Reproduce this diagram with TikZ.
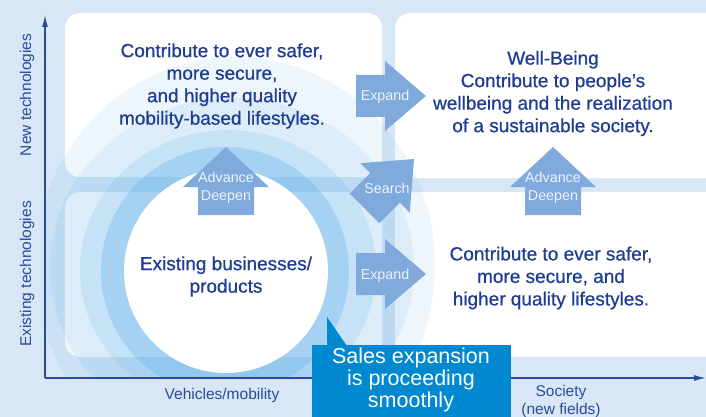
\documentclass[tikz,border=0pt]{standalone}
\usepackage{fontspec}
\setmainfont{Liberation Sans}
\newfontfamily\medfont[FakeBold=0.6]{Liberation Sans}
\usetikzlibrary{arrows.meta}

\definecolor{bgblue}{RGB}{215,231,246}
\definecolor{ringblue}{RGB}{90,174,234}
\definecolor{navy}{RGB}{30,60,145}
\definecolor{axisblue}{RGB}{43,74,158}
\definecolor{arrowblue}{RGB}{128,170,220}
\definecolor{arrowtext}{RGB}{238,243,250}
\definecolor{callout}{RGB}{0,136,208}

\newcommand{\bigarrow}[4]{\fill[arrowblue] (0,-#1) -- (#2,-#1) -- (#2,-#3) -- (#2+#4,0) -- (#2,#3) -- (#2,#1) -- (0,#1) -- cycle;}

\begin{document}
\begin{tikzpicture}[x=1pt,y=-1pt,
    box/.style={fill=white,rounded corners=15pt},
    ring/.style={fill=ringblue,opacity=#1},
    axis/.style={draw=axisblue,line width=1.4pt,-{Latex[length=12pt,width=6pt]}},
    lbl/.style={text=navy,align=center,font=\medfont\fontsize{19}{22.5}\selectfont},
    axislbl/.style={text=axisblue,align=center,font=\fontsize{15.5}{18}\selectfont},
    arrowlbl/.style={text=arrowtext,align=center,font=\fontsize{14.3}{18}\selectfont}]
    \clip (0,0) rectangle (706,417);
    \fill[bgblue] (0,0) rectangle (706,417);
    \fill[box] (65,13) rectangle (382,177);
    \fill[box] (395,13) rectangle (720,178);
    \fill[box] (65,192) rectangle (382,357);
    \fill[box] (395,192) rectangle (720,357);
    \begin{scope}
      \clip (45,0) rectangle (706,378);
      \fill[ring=0.10] (235,265) ellipse [x radius=200,y radius=208];
      \fill[ring=0.12] (232,268) ellipse [x radius=182,y radius=170];
      \fill[ring=0.17] (228,270) ellipse [x radius=148,y radius=140];
      \fill[ring=0.30] (225,271) circle [radius=124];
    \end{scope}
    \fill[white] (226,271) circle [radius=102];
    \begin{scope}[shift={(226,215)},rotate=90]
      \bigarrow{28}{28}{43}{40}
    \end{scope}
    \begin{scope}[shift={(553,215)},rotate=90]
      \bigarrow{28}{28}{43}{40}
    \end{scope}
    \begin{scope}[shift={(356,96)}]
      \bigarrow{21}{29}{35}{41}
    \end{scope}
    \begin{scope}[shift={(356,274)}]
      \bigarrow{21}{29}{35}{41}
    \end{scope}
    \begin{scope}[shift={(364.5,208.5)},rotate=45]
      \bigarrow{21}{29}{35}{41}
    \end{scope}
    \node[lbl] (mobility) at (222,86) {Contribute to ever safer,\\more secure,\\and higher quality\\mobility-based lifestyles.};
    \node[lbl] (wellbeing) at (553,93.5) {Well-Being\\Contribute to people’s\\wellbeing and the realization\\of a sustainable society.};
    \node[lbl] (lifestyles) at (551,278) {Contribute to ever safer,\\more secure, and\\higher quality lifestyles.};
    \node[lbl] (existing) at (226,276.5) {Existing businesses/\\products};
    \node[arrowlbl] (advleft) at (226,188) {Advance\\Deepen};
    \node[arrowlbl] (advright) at (553,188) {Advance\\Deepen};
    \node[arrowlbl] (exptop) at (385,97) {Expand};
    \node[arrowlbl] (expbottom) at (385,276) {Expand};
    \node[arrowlbl] (search) at (387,188) {Search};
    \draw[axis] (45,378) -- (45,15);
    \draw[axis] (45,378) -- (706,378);
    \node[axislbl,rotate=90] (newtech) at (27,95) {New technologies};
    \node[axislbl,rotate=90] (oldtech) at (27,274) {Existing technologies};
    \node[axislbl] (vehicles) at (222,395) {Vehicles/mobility};
    \node[axislbl] (society) at (561,401) {Society\\(new fields)};
    \fill[callout] (327,317) -- (347,346) -- (327,346) -- cycle;
    \fill[callout] (312,345) rectangle (511,420);
    \node[text=white,align=center,font=\fontsize{21.5}{22}\selectfont] (sales) at (411,380) {Sales expansion\\is proceeding\\smoothly};
\end{tikzpicture}
\end{document}
